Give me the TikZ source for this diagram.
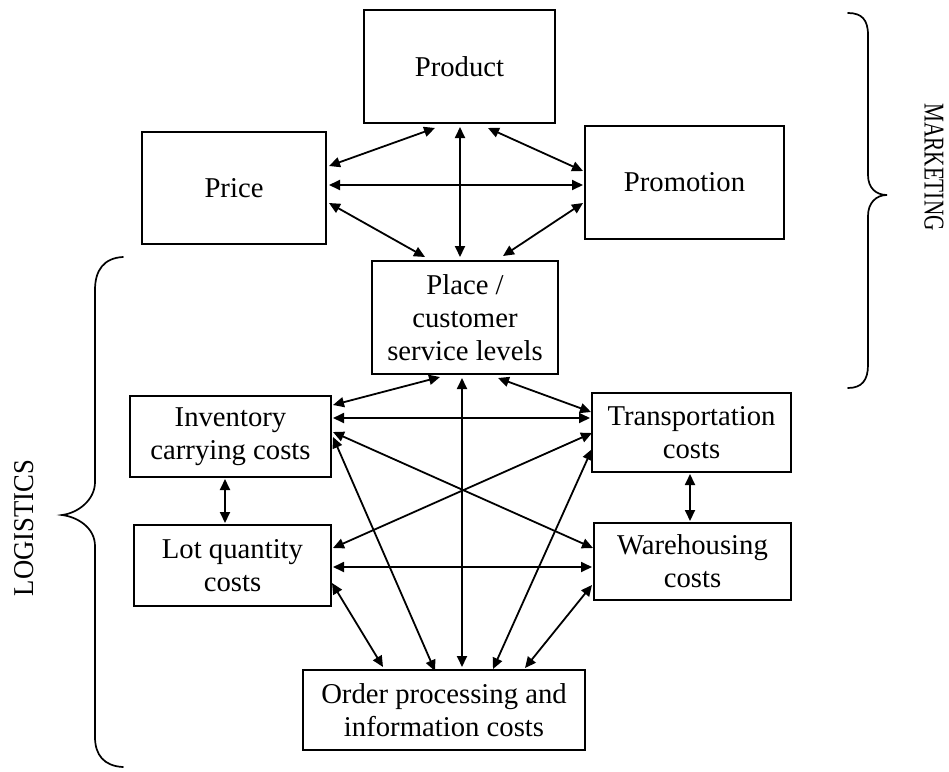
\documentclass[tikz,border=0pt]{standalone}
\usepackage{fontspec}
\setmainfont{Liberation Serif}
\usetikzlibrary{arrows.meta}
\begin{document}
\begin{tikzpicture}[x=1pt,y=-1pt,
  txt/.style={font=\fontsize{28.7}{33}\selectfont},
  box/.style={txt, draw, line width=2pt, rectangle, inner sep=0pt, outer sep=0pt, align=center},
  link/.style={{Triangle[length=11pt,width=10pt]}-{Triangle[length=11pt,width=10pt]}, line width=1.8pt},
  bracepath/.style={line width=1.7pt, line cap=round}]

\useasboundingbox (0,0) rectangle (949,771);

% boxes
\node[box, minimum width=191pt, minimum height=113pt] (product) at (459.5,66.5) {Product};
\node[box, minimum width=184pt, minimum height=112pt] (price) at (234,188) {Price};
\node[box, minimum width=199pt, minimum height=113pt] (promo) at (684.5,182.5) {Promotion};
\node[box, minimum width=186pt, minimum height=113pt] (place) at (465,317.5) {Place /\\customer\\service levels};
\node[box, minimum width=201pt, minimum height=81pt] (inv) at (230.5,436.5) {Inventory\\carrying costs};
\node[box, minimum width=199pt, minimum height=79pt] (trans) at (691.5,432.5) {Transportation\\costs};
\node[box, minimum width=197pt, minimum height=81pt] (lot) at (232.5,565.5) {Lot quantity\\costs};
\node[box, minimum width=197pt, minimum height=77pt] (ware) at (692.5,561.5) {Warehousing\\costs};
\node[box, minimum width=282pt, minimum height=80pt] (order) at (444,710) {Order processing and\\information costs};

% connectors (marketing)
\draw[link] ([shift={(3,-22)}]price.east) -- ([shift={(-24.5,5)}]product.south);
\draw[link] ([shift={(3,-3)}]price.east) -- ([shift={(-2,2.5)}]promo.west);
\draw[link] ([shift={(3,15)}]price.east) -- ([shift={(-40,-4)}]place.north);
\draw[link] ([shift={(0.5,4)}]product.south) -- ([shift={(-5,-4)}]place.north);
\draw[link] ([shift={(28.5,5)}]product.south) -- ([shift={(-2,-11.5)}]promo.west);
\draw[link] ([shift={(38,-5)}]place.north) -- ([shift={(-2,20.5)}]promo.west);

% connectors (logistics)
\draw[link] ([shift={(-25,3)}]place.south) -- ([shift={(2,-31.5)}]inv.east);
\draw[link] ([shift={(2,-18.5)}]inv.east) -- ([shift={(-2,-14.5)}]trans.west);
\draw[link] ([shift={(33,4)}]place.south) -- ([shift={(-1,-20.5)}]trans.west);
\draw[link] ([shift={(-3,4)}]place.south) -- ([shift={(18,-3)}]order.north);
\draw[link] ([shift={(2,-4.5)}]inv.east) -- ([shift={(-1,-13.5)}]ware.west);
\draw[link] ([shift={(0,0.5)}]trans.west) -- ([shift={(2,-17.5)}]lot.east);
\draw[link] ([shift={(2,0.5)}]inv.east) -- ([shift={(-9,1)}]order.north);
\draw[link] ([shift={(0,16.5)}]trans.west) -- ([shift={(49,-1)}]order.north);
\draw[link] ([shift={(2,1.5)}]lot.east) -- ([shift={(-2,5.5)}]ware.west);
\draw[link] ([shift={(1,17.5)}]lot.east) -- ([shift={(-61,-3)}]order.north);
\draw[link] ([shift={(-2,23.5)}]ware.west) -- ([shift={(81,-2)}]order.north);
\draw[link] ([shift={(-5.5,2)}]inv.south) -- ([shift={(-7.5,-2)}]lot.north);
\draw[link] ([shift={(-1.5,2)}]trans.south) -- ([shift={(-2.5,-2)}]ware.north);

% braces
\draw[bracepath] (848,13) .. controls (862,13) and (868,20) .. (868,35) -- (868,175)
  .. controls (868,188) and (876,195) .. (887,195)
  .. controls (876,195) and (868,203) .. (868,216) -- (868,365)
  .. controls (868,380) and (862,388) .. (848,388);
\draw[bracepath] (123,257) .. controls (104,258) and (95,270) .. (95,290) -- (95,482)
  .. controls (95,500) and (78,513) .. (62,515)
  .. controls (78,517) and (95,528) .. (95,546) -- (95,737)
  .. controls (95,755) and (104,766) .. (123,767);

\node[txt, rotate=-90] (mkt) at (934,167) {\scalebox{0.74}[1]{MARKETING}};
\node[txt, rotate=90] (lgs) at (24,528) {\scalebox{0.93}[1]{LOGISTICS}};
\end{tikzpicture}
\end{document}
